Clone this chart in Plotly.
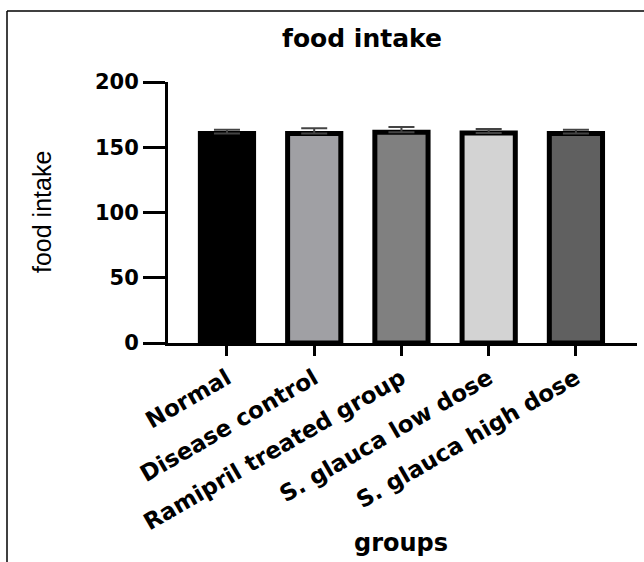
import plotly.graph_objects as go

groups = ["Normal", "Disease control", "Ramipril treated group",
          "S. glauca low dose", "S. glauca high dose"]
food_intake = [160.5, 160.5, 161.5, 161.0, 160.5]
sem = [3.0, 4.0, 4.0, 3.0, 3.0]
sem_minus = [0, 0, 0, 0, 0]
bar_colors = ["#000000", "#a0a0a4", "#808080", "#d3d3d3", "#606060"]
y_ticks = [0, 50, 100, 150, 200]

W, H = 644, 562
L, R, T, B = 168, 637, 82, 343  # plot area pixel edges


def px_x(p):
    return (p - L) / (R - L)


def px_y(p):
    return (B - p) / (B - T)


fig = go.Figure()
fig.add_trace(go.Bar(
    x=list(range(len(groups))),
    y=food_intake,
    width=0.61,
    marker=dict(color=bar_colors, line=dict(color="black", width=5)),
    error_y=dict(type="data", symmetric=False, array=sem, arrayminus=sem_minus,
                 visible=True, color="#444444", thickness=2, width=13),
    showlegend=False,
))

font_bold = "DejaVu Sans"
fig.update_layout(
    width=W, height=H,
    margin=dict(l=L, r=W - R, t=T, b=H - B),
    plot_bgcolor="white", paper_bgcolor="white",
    title=dict(text="food intake", x=362 / W, xref="container", xanchor="center",
               y=1 - 38 / H, yref="container", yanchor="middle",
               font=dict(family=font_bold, size=25, color="black", weight="bold")),
    xaxis=dict(
        tickmode="array", tickvals=list(range(len(groups))), ticktext=groups,
        range=[-0.676, 4.7], showgrid=False, zeroline=False,
        showline=True, linecolor="black", linewidth=3,
        ticks="outside", ticklen=10, tickwidth=3, tickcolor="black",
        tickangle=-30,
        tickfont=dict(family=font_bold, size=23, color="black", weight="bold"),
    ),
    yaxis=dict(
        range=[0, 200], tickvals=y_ticks, showgrid=False, zeroline=False,
        showline=True, linecolor="black", linewidth=3,
        ticks="outside", ticklen=22, tickwidth=3, tickcolor="black",
        tickfont=dict(family=font_bold, size=21, color="black", weight="bold"),
    ),
)

# y-axis title
fig.add_annotation(
    text="food intake", xref="paper", yref="paper",
    x=px_x(42), y=px_y(212), xanchor="center", yanchor="middle",
    textangle=-90, showarrow=False,
    font=dict(family="Liberation Sans Narrow, Liberation Sans, Arial", size=25, color="black"),
)

# x-axis title
fig.add_annotation(
    text="groups", xref="paper", yref="paper",
    x=px_x(401), y=px_y(543), xanchor="center", yanchor="middle",
    showarrow=False,
    font=dict(family=font_bold, size=24, color="black", weight="bold"),
)

# outer frame (left and top edges)
fig.add_shape(type="line", xref="paper", yref="paper",
              x0=px_x(7), y0=px_y(11), x1=px_x(7), y1=px_y(H),
              line=dict(color="black", width=1.5))
fig.add_shape(type="line", xref="paper", yref="paper",
              x0=px_x(7), y0=px_y(11), x1=px_x(W), y1=px_y(11),
              line=dict(color="black", width=1.5))

fig.write_html("out.html", config={"displayModeBar": False},
               post_script="document.body.style.margin='0';document.body.style.overflow='hidden';")
